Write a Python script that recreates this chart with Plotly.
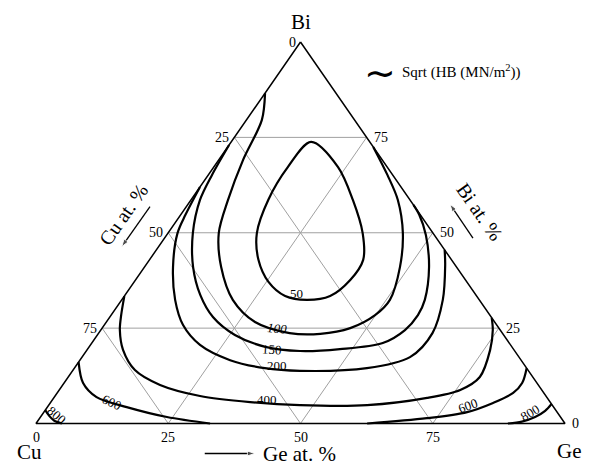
import plotly.graph_objects as go

ticks = [0, 25, 50, 75]
grid = [25, 50, 75]

# Sqrt(HB) iso-lines, in at. % Bi and at. % Ge (Cu = 100 - Bi - Ge)
c50_bi = [73.8, 67.2, 58.6, 49.9, 42.9, 37.6, 33.4, 32.4, 33.4, 37.1, 42.9, 49.9, 58.6, 67.2, 73.8]
c50_ge = [15.1, 23.5, 30.6, 36.8, 40.4, 40.6, 38.9, 35.0, 30.4, 25.4, 20.6, 16.8, 14.6, 14.0, 15.1]

c100_bi = [86.6, 79.6, 69.1, 58.6, 49.9, 41.0, 32.4, 26.6, 23.7, 23.5, 25.0, 28.4, 32.4, 41.0, 49.9, 58.6, 65.1, 72.5]
c100_ge = [0.0, 2.9, 4.6, 7.0, 9.6, 14.5, 21.0, 28.1, 36.1, 42.0, 46.9, 49.9, 50.7, 48.3, 44.4, 39.1, 33.9, 27.5]

c150_bi = [73.0, 65.1, 58.6, 49.9, 41.0, 33.7, 27.9, 23.2, 20.1, 19.0, 19.5, 21.1, 24.5, 28.4, 32.4, 41.0, 49.4, 54.7, 57.3]
c150_ge = [0.0, 0.7, 1.7, 4.7, 9.2, 14.2, 19.5, 26.0, 33.3, 40.4, 47.7, 55.0, 57.5, 58.0, 57.3, 53.8, 49.0, 45.1, 42.7]

c200_bi = [62.0, 54.7, 49.9, 41.0, 32.4, 25.8, 20.6, 16.6, 14.5, 13.8, 14.5, 17.4, 23.7, 32.4, 41.5, 45.5]
c200_ge = [0.0, 0.9, 1.8, 5.4, 10.1, 14.9, 20.7, 28.4, 36.0, 43.0, 55.3, 62.0, 63.1, 60.7, 56.6, 54.5]

c400_bi = [33.4, 28.4, 24.5, 19.3, 14.0, 10.1, 7.2, 5.6, 4.8, 4.8, 6.7, 8.8, 12.2, 19.3, 24.5, 27.7]
c400_ge = [0.0, 1.9, 3.6, 6.8, 11.7, 18.4, 27.4, 37.7, 47.5, 60.2, 70.6, 75.8, 77.8, 76.2, 74.1, 72.3]

c600a_bi = [16.1, 10.6, 6.9, 4.3, 1.7, 0.0]
c600a_ge = [0.0, 3.6, 8.0, 15.0, 23.9, 32.9]
c600b_bi = [0.0, 1.4, 3.0, 5.4, 8.0, 10.6, 14.5]
c600b_ge = [62.6, 73.2, 80.0, 83.7, 86.2, 86.6, 85.5]

c800a_bi = [3.5, 2.0, 0.8, 0.0]
c800a_ge = [0.0, 1.5, 3.0, 4.9]
c800b_bi = [5.1, 3.3, 1.7, 0.5, 0.0]
c800b_ge = [94.9, 94.6, 93.5, 91.6, 89.2]

# label text, Bi, Ge, angle
level_labels = [
    ("50", 34.2, 32.2, 0), ("<i>100</i>", 24.8, 33.2, 5), ("150", 19.3, 35.0, 3),
    ("200", 15.1, 38.0, 0), ("400", 6.4, 40.5, 0), ("600", 5.6, 11.6, 25),
    ("600", 4.8, 79.3, -20), ("800", 2.2, 2.9, 40), ("800", 3.0, 91.9, -30),
]

SERIF = "Liberation Serif, Times New Roman, serif"


def xy(bi, ge):
    return [g + b / 2 for b, g in zip(bi, ge)], list(bi)


fig = go.Figure()

gx, gy = [], []
for t in grid:
    for bi, ge in [([t, t], [0, 100 - t]), ([0, 100 - t], [t, t]), ([0, 100 - t], [100 - t, 0])]:
        x, y = xy(bi, ge)
        gx += x + [None]
        gy += y + [None]
fig.add_trace(go.Scatter(x=gx, y=gy, mode="lines", line=dict(color="#a0a0a0", width=1), hoverinfo="skip"))

contours = [
    (c50_bi, c50_ge), (c100_bi, c100_ge), (c150_bi, c150_ge), (c200_bi, c200_ge),
    (c400_bi, c400_ge), (c600a_bi, c600a_ge), (c600b_bi, c600b_ge),
    (c800a_bi, c800a_ge), (c800b_bi, c800b_ge),
]
for bi, ge in contours:
    x, y = xy(bi, ge)
    fig.add_trace(go.Scatter(x=x, y=y, mode="lines",
                             line=dict(color="black", width=2.2, shape="spline", smoothing=0.9)))

x, y = xy([100, 0, 0, 100], [0, 0, 100, 0])
fig.add_trace(go.Scatter(x=x, y=y, mode="lines", line=dict(color="black", width=1.5)))

# little arrows next to the axis titles (tail -> head)
for tx, ty, hx, hy in [(31.9, -7.86, 41.4, -7.86), (21.55, 56.83, 16.2, 46.34), (82.6, 48.6, 78.26, 57.5)]:
    fig.add_trace(go.Scatter(x=[tx, hx], y=[ty, hy], mode="lines+markers", hoverinfo="skip",
                             line=dict(color="black", width=1.3),
                             marker=dict(symbol="arrow", angleref="previous", size=[0, 8], color="black")))

ann = []


def text(s, x, y, size=14, **kw):
    ann.append(dict(text=s, x=x, y=y, showarrow=False, font=dict(family=SERIF, size=size, color="black"), **kw))


for t in ticks:
    # Cu on the left edge, Bi on the right edge, Ge along the bottom
    text(str(t), (100 - t) / 2, 100 - t, xanchor="right", xshift=-3)
    text(str(t), 100 - t / 2, t, xanchor="left", xshift=5)
    text(str(t), t, 0, yshift=-14)

for s, bi, ge, ang in level_labels:
    (lx,), (ly,) = xy([bi], [ge])
    text(s, lx, ly, size=13, textangle=ang)

text("Bi", 50.1, 105.3, size=21)
text("Cu", -1.3, -7.5, size=21)
text("Ge", 100.9, -7.2, size=21)
text("Ge at. %", 49.9, -8.1, size=21)
text("Cu at. %", 16.45, 54.65, size=20, textangle=-55)
text("Bi at. %", 83.9, 55.4, size=20, textangle=55)
text("∼", 65.0, 92.0, size=38)
text("Sqrt (HB (MN/m<sup>2</sup>))", 68.8, 92.4, size=15, xanchor="left")

fig.update_layout(
    width=592, height=464, margin=dict(l=0, r=0, t=0, b=0),
    paper_bgcolor="white", plot_bgcolor="white", showlegend=False,
    xaxis=dict(range=[-6.805, 105.104], visible=False, fixedrange=True),
    yaxis=dict(range=[-10.616, 111.01], visible=False, fixedrange=True),
    annotations=ann,
)
fig.write_html("out.html", config={"displayModeBar": False},
               post_script="document.body.style.margin = '0';")
